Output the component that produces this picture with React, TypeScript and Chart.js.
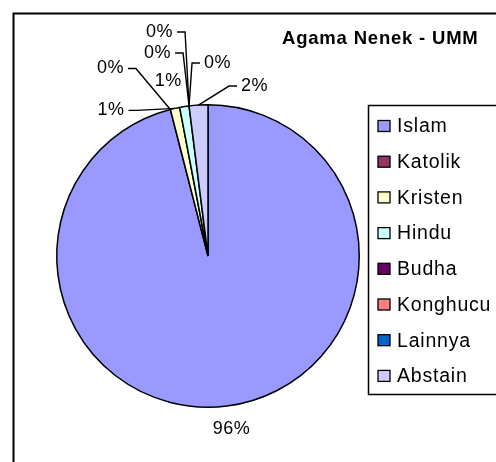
import React, { useEffect, useRef } from "react";
import { Chart, registerables } from "chart.js";

Chart.register(...registerables);

const TITLE = "Agama Nenek - UMM";
const categories = ["Islam", "Katolik", "Kristen", "Hindu", "Budha", "Konghucu", "Lainnya", "Abstain"];
const values = [96, 0, 1, 1, 0, 0, 0, 2];
const colors = ["#9999FF", "#993366", "#FFFFCC", "#CCFFFF", "#660066", "#FF8080", "#0066CC", "#CCCCFF"];

// label placement relative to slice edge anchor (layout only)
const labelLayout = [
  { dx: 4.5, dy: 23, line: false },
  { dx: -60, dy: -41, line: true },
  { dx: -64, dy: 2, line: true },
  { dx: -16, dy: -26, line: false },
  { dx: -31.5, dy: -53, line: true },
  { dx: -29.5, dy: -74, line: true },
  { dx: 28.5, dy: -43, line: true },
  { dx: 56, dy: -19, line: true },
];

const FONT = "'Liberation Sans', Arial, sans-serif";

const decorPlugin = {
  id: "decor",
  afterDraw(chart: any) {
    const ctx = chart.ctx as CanvasRenderingContext2D;
    ctx.save();
    // outer frame
    ctx.strokeStyle = "#000";
    ctx.lineWidth = 2;
    ctx.beginPath();
    ctx.moveTo(13.5, 470);
    ctx.lineTo(13.5, 13.5);
    ctx.lineTo(500, 13.5);
    ctx.stroke();

    // title
    ctx.fillStyle = "#000";
    ctx.font = `bold 18.5px ${FONT}`;
    (ctx as any).letterSpacing = "0.8px";
    ctx.textAlign = "left";
    ctx.textBaseline = "middle";
    ctx.fillText(TITLE, 282, 39);

    // legend
    ctx.lineWidth = 1.5;
    ctx.strokeRect(368.5, 105.5, 140, 289);
    ctx.font = `19.5px ${FONT}`;
    (ctx as any).letterSpacing = "0.8px";
    const labels = chart.data.labels as string[];
    labels.forEach((lab: string, i: number) => {
      const cy = 126 + i * 35.7;
      ctx.fillStyle = colors[i];
      ctx.fillRect(378, cy - 5.5, 12, 11);
      ctx.lineWidth = 1.3;
      ctx.strokeStyle = "#000";
      ctx.strokeRect(378, cy - 5.5, 12, 11);
      ctx.fillStyle = "#000";
      ctx.fillText(lab, 397, cy + 1);
    });

    // data labels
    const meta = chart.getDatasetMeta(0);
    const data = chart.data.datasets[0].data as number[];
    const total = data.reduce((a: number, b: number) => a + b, 0);
    ctx.font = `18px ${FONT}`;
    (ctx as any).letterSpacing = "0.5px";
    ctx.lineWidth = 1.4;
    meta.data.forEach((el: any, i: number) => {
      const mid = (el.startAngle + el.endAngle) / 2;
      const ax = el.x + Math.cos(mid) * el.outerRadius;
      const ay = el.y + Math.sin(mid) * el.outerRadius;
      const lay = labelLayout[i];
      const lx = ax + lay.dx;
      const ly = ay + lay.dy;
      const txt = Math.round((data[i] / total) * 100) + "%";
      const w = ctx.measureText(txt).width;
      ctx.fillStyle = "#000";
      ctx.textAlign = "center";
      ctx.fillText(txt, lx, ly);
      if (lay.line) {
        const left = lay.dx < 0;
        const sx = left ? lx + w / 2 + 4 : lx - w / 2 - 4;
        const ex = left ? sx + 8 : sx - 8;
        ctx.beginPath();
        ctx.moveTo(sx, ly);
        ctx.lineTo(ex, ly);
        ctx.lineTo(ax, ay);
        ctx.stroke();
      }
    });
    ctx.restore();
  },
};

export default function App() {
  const ref = useRef<HTMLCanvasElement | null>(null);
  useEffect(() => {
    if (!ref.current) return;
    const chart = new Chart(ref.current, {
      type: "pie",
      data: {
        labels: categories,
        datasets: [
          {
            data: values,
            backgroundColor: colors,
            borderColor: "#000",
            borderWidth: 1.5,
          },
        ],
      },
      options: {
        responsive: false,
        animation: false,
        devicePixelRatio: 1,
        layout: { padding: { left: 56, right: 136, top: 104, bottom: 54 } },
        plugins: {
          legend: { display: false },
          title: { display: false },
          tooltip: { enabled: false },
        },
      },
      plugins: [decorPlugin],
    });
    return () => chart.destroy();
  }, []);
  return (
    <div style={{ position: "fixed", left: 0, top: 0, width: 496, height: 462, background: "#fff" }}>
      <canvas ref={ref} width={496} height={462} style={{ width: 496, height: 462 }} />
    </div>
  );
}
